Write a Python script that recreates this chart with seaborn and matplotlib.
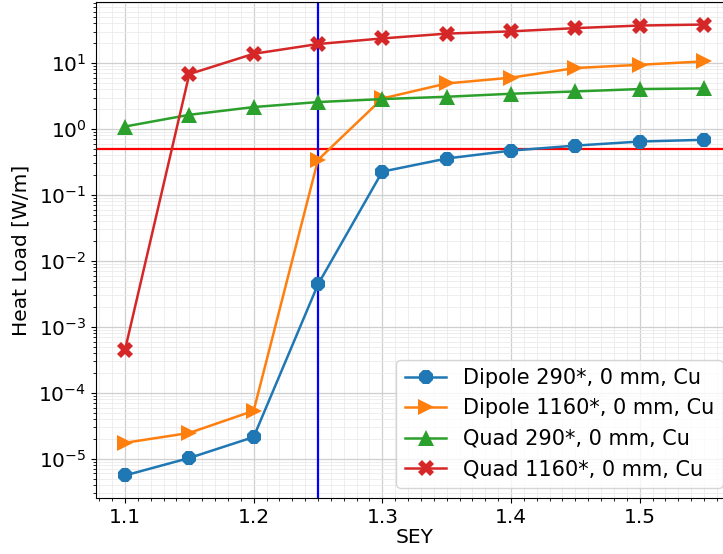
import matplotlib
matplotlib.use("Agg")
import matplotlib.pyplot as plt
from matplotlib.ticker import MultipleLocator, LogLocator, NullFormatter
import seaborn as sns
import pandas as pd

sey = [1.10, 1.15, 1.20, 1.25, 1.30, 1.35, 1.40, 1.45, 1.50, 1.55]
dipole_290 = [5.6e-6, 1.03e-5, 2.14e-5, 4.4e-3, 0.226, 0.357, 0.47, 0.56, 0.645, 0.686]
dipole_1160 = [1.75e-5, 2.47e-5, 5.35e-5, 0.34, 2.9, 4.9, 6.0, 8.4, 9.4, 10.6]
quad_290 = [1.09, 1.64, 2.15, 2.56, 2.84, 3.08, 3.42, 3.71, 4.03, 4.12]
quad_1160 = [4.45e-4, 6.8, 13.8, 19.4, 23.6, 27.9, 30.2, 33.8, 37.0, 38.3]
labels = ["Dipole 290*, 0 mm, Cu", "Dipole 1160*, 0 mm, Cu",
          "Quad 290*, 0 mm, Cu", "Quad 1160*, 0 mm, Cu"]
threshold = 0.5
sey_mark = 1.25

series = [dipole_290, dipole_1160, quad_290, quad_1160]
rows = []
for lab, vals in zip(labels, series):
    for x, v in zip(sey, vals):
        rows.append({"SEY": x, "Heat Load": v, "Config": lab})
df = pd.DataFrame(rows)

plt.rcParams['font.family'] = ['DejaVu Sans']
plt.rcParams['font.size'] = 14.5

fig = plt.figure(figsize=(7.23, 5.54), dpi=100)
ax = fig.add_axes([96/723, 56/554, (733-96)/723, (498-2)/554])

palette = dict(zip(labels, ["#1f77b4", "#ff7f0e", "#2ca02c", "#d62728"]))
markers = dict(zip(labels, ["8", ">", "^", "X"]))
sns.lineplot(data=df, x="SEY", y="Heat Load", hue="Config", style="Config",
             hue_order=labels, style_order=labels, palette=palette,
             markers=markers, dashes=False, markersize=11.5, linewidth=1.8,
             markeredgewidth=0, ax=ax)

ax.set_yscale("log")
ax.axhline(threshold, color="#ff0000", lw=1.6, zorder=1.5)
ax.axvline(sey_mark, color="#0000ff", lw=1.6, zorder=1.5)

ax.xaxis.set_major_locator(MultipleLocator(0.1))
ax.xaxis.set_minor_locator(MultipleLocator(0.01))
ax.yaxis.set_major_locator(LogLocator(base=10, numticks=20))
ax.yaxis.set_minor_locator(LogLocator(base=10, subs=range(2, 10), numticks=20))
ax.yaxis.set_minor_formatter(NullFormatter())
ax.grid(which="major", color="#cfcfcf", lw=0.9)
ax.grid(which="minor", color="#ebebeb", lw=0.6)
ax.set_axisbelow(True)

ax.set_xlabel("SEY", labelpad=1)
ax.set_ylabel("Heat Load [W/m]", labelpad=6)
ax.legend(loc="lower right", fontsize=15)

fig.savefig("out.png", dpi=100)
